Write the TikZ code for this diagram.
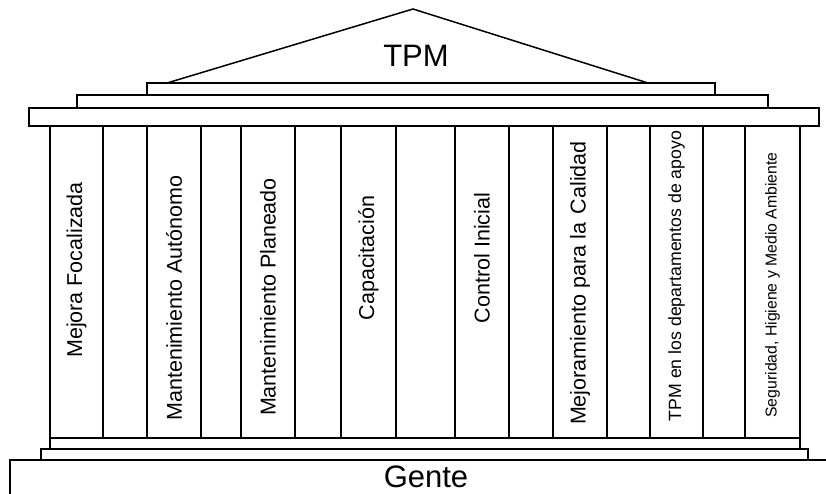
\documentclass[tikz,border=0pt]{standalone}
\usepackage{fontspec}
\setmainfont{Liberation Sans}
\begin{document}
\begin{tikzpicture}[x=1pt,y=-1pt,
  ln/.style={draw=black,line width=1.5pt},
  vtxt/.style={rotate=90,inner sep=0pt,font=\fontsize{21.5}{24}\selectfont},
  big/.style={inner sep=0pt,font=\fontsize{31}{34}\selectfont}]
\useasboundingbox (0,0) rectangle (826,493);
% roof
\draw[ln] (167,83) -- (413,9) -- (648,83);
\draw[ln] (147,83) rectangle (715,95);
\draw[ln] (77,95) rectangle (768,108);
\draw[ln] (29,108) rectangle (819,126);
% columns
\foreach \a/\b in {50/103,103/147,147/201,201/241,241/295,295/341,341/396,396/455,455/509,509/553,553/607,607/650,650/703,703/745,745/800}
  \draw[ln] (\a,126) rectangle (\b,438);
% base
\draw[ln] (50,438) rectangle (800,449);
\draw[ln] (41,449) rectangle (808,460);
\draw[ln] (827,460) -- (10,460) -- (10,494);
% texts
\node[big] (tpm) at (416,56) {TPM};
\node[big,anchor=base] (gente) at (426,487) {Gente};
\node[vtxt] (t1) at (76.5,270) {Mejora Focalizada};
\node[vtxt] (t2) at (174,298) {Mantenimiento Autónomo};
\node[vtxt] (t3) at (268,297) {Mantenimiento Planeado};
\node[vtxt] (t4) at (368.5,258) {Capacitación};
\node[vtxt] (t5) at (482,258) {Control Inicial};
\node[vtxt] (t6) at (580,283) {Mejoramiento para la\hspace{3pt} Calidad};
\node[vtxt,font=\fontsize{17.7}{20}\selectfont] (t7) at (676.5,276) {TPM en los departamentos de apoyo};
\node[vtxt,font=\fontsize{15.8}{18}\selectfont] (t8) at (772.5,285) {Seguridad, Higiene y Medio Ambiente};
\end{tikzpicture}
\end{document}
